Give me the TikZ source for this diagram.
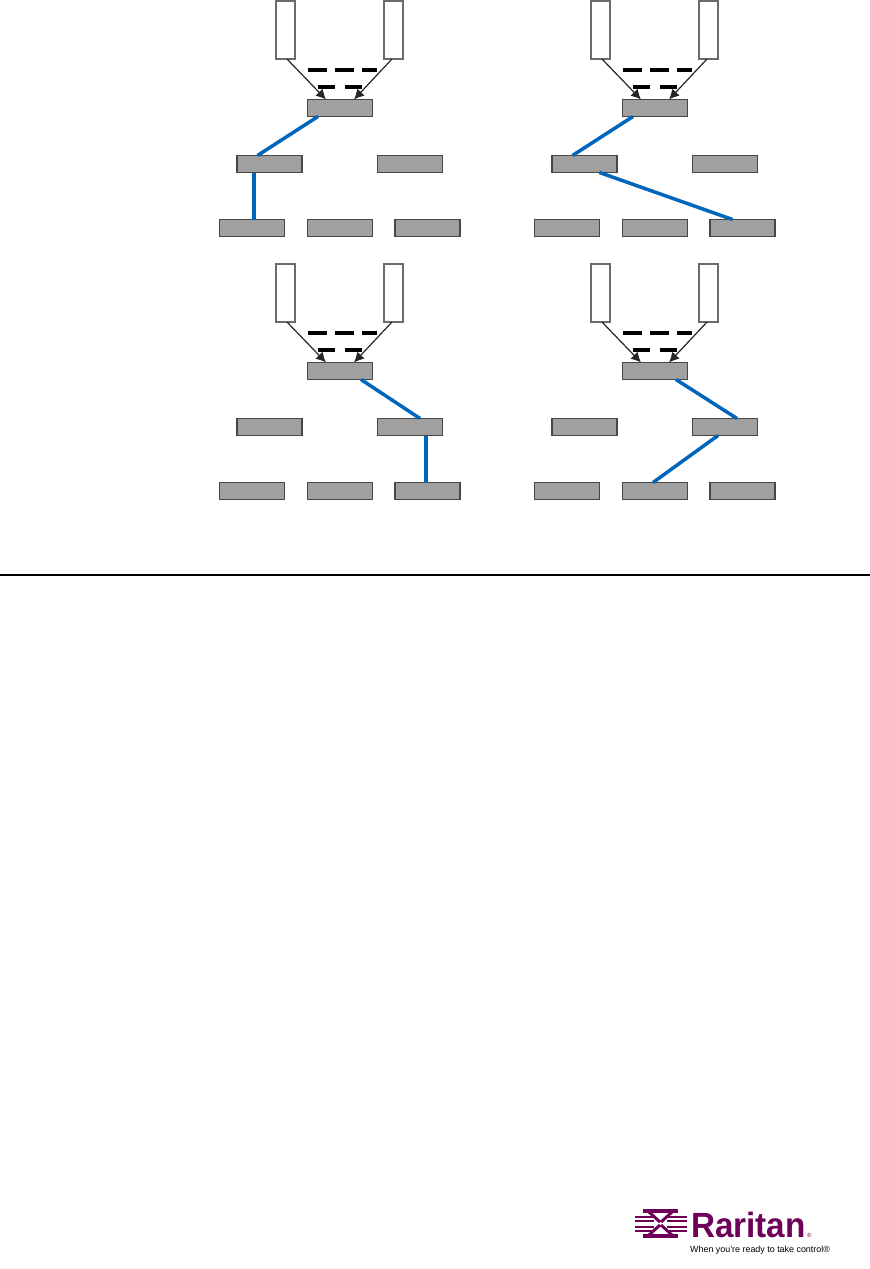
\documentclass[tikz,border=0pt]{standalone}
\usepackage{fontspec}
\setmainfont{Liberation Sans}
\usetikzlibrary{arrows.meta,calc}
\definecolor{boxgray}{RGB}{160,160,160}
\definecolor{linkblue}{RGB}{0,102,187}
\definecolor{rarpurple}{RGB}{110,0,90}
\tikzset{
  x=1pt,y=-1pt,
  switchbox/.style={draw=black!72,line width=1.6pt,fill=boxgray,minimum width=65pt,minimum height=17pt,inner sep=0pt,outer sep=0pt},
  hostbox/.style={draw=black!58,line width=1.6pt,fill=white,minimum width=18.5pt,minimum height=58pt,inner sep=0pt,outer sep=0pt},
  feedline/.style={draw=black!85,line width=1.2pt,-{Latex[length=10pt,width=10pt]}},
  dashbar/.style={draw=black,line width=3.6pt},
  bluelink/.style={draw=linkblue,line width=3.5pt},
}
% #1 prefix, #2 x offset, #3 y offset
\newcommand{\panelbase}[3]{%
  \begin{scope}[shift={(#2,#3)}]
    \node[hostbox] (#1hl) at (285.5,30) {};
    \node[hostbox] (#1hr) at (393.5,30) {};
    \node[switchbox] (#1c) at (340,108) {};
    \node[switchbox] (#1ml) at (269.5,164) {};
    \node[switchbox] (#1mr) at (410,164) {};
    \node[switchbox] (#1ba) at (252,228) {};
    \node[switchbox] (#1bb) at (340,228) {};
    \node[switchbox] (#1bc) at (427.5,228) {};
    \coordinate (#1ft) at ($(#1c.north)+(-14,0)$);
    \coordinate (#1gt) at ($(#1c.north)+(14,0)$);
    \coordinate (#1fs) at ($(#1hl.south)+(1.5,0)$);
    \coordinate (#1gs) at ($(#1hr.south)+(-1.5,0)$);
    \draw[feedline] (#1fs) -- (#1ft);
    \draw[feedline] (#1gs) -- (#1gt);
    \coordinate (#1d1) at (308,70); \coordinate (#1d2) at (327,70);
    \coordinate (#1d3) at (335,70); \coordinate (#1d4) at (354,70);
    \coordinate (#1d5) at (362,70); \coordinate (#1d6) at (377,70);
    \coordinate (#1d7) at (318,87); \coordinate (#1d8) at (335,87);
    \coordinate (#1d9) at (345,87); \coordinate (#1d0) at (362,87);
    \draw[dashbar] (#1d1)--(#1d2) (#1d3)--(#1d4) (#1d5)--(#1d6) (#1d7)--(#1d8) (#1d9)--(#1d0);
  \end{scope}}
\begin{document}
\begin{tikzpicture}
\useasboundingbox (0,0) rectangle (870,1269);
\fill[white] (0,0) rectangle (870,1269);
\panelbase{a}{0}{0}
\panelbase{b}{315}{0}
\panelbase{c}{0}{263}
\panelbase{d}{315}{263}
% blue paths
\draw[bluelink] ($(ac.south)+(-22,0)$) -- ($(aml.north)+(-12,0)$);
\draw[bluelink] ($(aml.south)+(-15.5,0)$) -- ($(aba.north)+(2,0)$);
\draw[bluelink] ($(bc.south)+(-22,0)$) -- ($(bml.north)+(-12,0)$);
\draw[bluelink] ($(bml.south)+(15,0)$) -- ($(bbc.north)+(-10,0)$);
\draw[bluelink] ($(cc.south)+(21,0)$) -- ($(cmr.north)+(10,0)$);
\draw[bluelink] ($(cmr.south)+(16,0)$) -- ($(cbc.north)+(-1.5,0)$);
\draw[bluelink] ($(dc.south)+(21,0)$) -- ($(dmr.north)+(12,0)$);
\draw[bluelink] ($(dmr.south)+(-7,0)$) -- ($(dbb.north)+(-2,0)$);
% rule
\coordinate (rl) at (0,575); \coordinate (rr) at (870,575);
\draw[black,line width=1.4pt] (rl) -- (rr);
% logo mark
\begin{scope}[rarpurple]
  \fill (643,1209) rectangle (678,1213);
  \fill (643,1234) rectangle (678,1238);
  \foreach \yy in {1216.5,1220.5,1226.5,1230.5}{
    \fill (635,\yy-1) rectangle (654,\yy+1);
    \fill (667,\yy-1) rectangle (687,\yy+1);
  }
  \draw[line width=3pt] (649,1212) -- (660,1222) (672,1212) -- (661,1222)
     (649,1235) -- (660,1225) (672,1235) -- (661,1225);
\end{scope}
\node[anchor=base west,inner sep=0pt,text=rarpurple,font=\bfseries\fontsize{35}{35}\selectfont] (logotext) at (691,1237.5) {\scalebox{0.95}[1]{Raritan}};
\node[anchor=base west,inner sep=0pt,text=rarpurple,font=\fontsize{6}{6}\selectfont] (logoreg) at (807,1237.5) {®};
\node[anchor=base west,inner sep=0pt,text=black,font=\fontsize{8.9}{10}\selectfont] (tagline) at (690,1252) {When you're ready to take control®};
\end{tikzpicture}
\end{document}
